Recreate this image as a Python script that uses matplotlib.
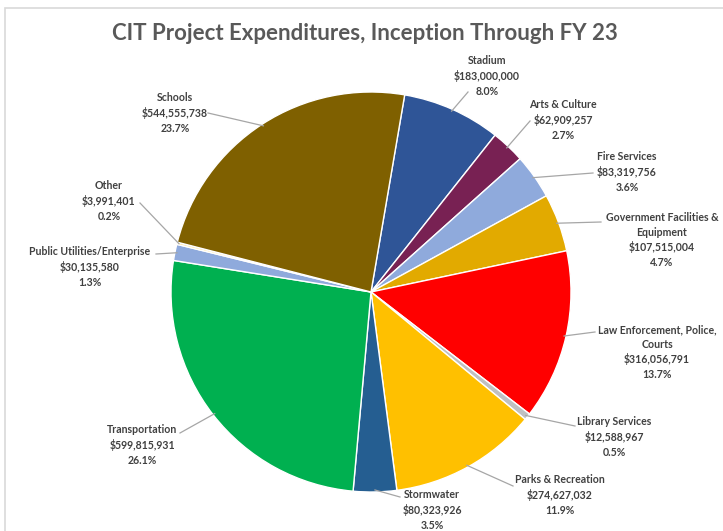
import numpy as np
import matplotlib
matplotlib.use("Agg")
import matplotlib.pyplot as plt
from matplotlib.patches import Rectangle
from matplotlib.lines import Line2D

# data, clockwise from the Stadium slice
categories = ["Stadium", "Arts & Culture", "Fire Services",
              "Government Facilities &\nEquipment", "Law Enforcement, Police,\nCourts",
              "Library Services", "Parks & Recreation", "Stormwater", "Transportation",
              "Public Utilities/Enterprise", "Other", "Schools"]
amounts = [183000000, 62909257, 83319756, 107515004, 316056791, 12588967,
           274627032, 80323926, 599815931, 30135580, 3991401, 544555738]
percents = ["8.0%", "2.7%", "3.6%", "4.7%", "13.7%", "0.5%",
            "11.9%", "3.5%", "26.1%", "1.3%", "0.2%", "23.7%"]
colors = ["#2F5597", "#782153", "#8FAADC", "#E2AA00", "#FF0000", "#C0C0C0",
          "#FFC000", "#255E91", "#00B050", "#8FAADC", "#FFE699", "#7F6000"]

# label block centres and leader line ends, image pixels (x, y from top)
label_pos = [(487, 76), (563, 120), (627, 172), (662, 240), (657, 352), (614, 437),
             (560, 495), (432, 510), (142, 445), (90, 267), (109, 201), (175, 113)]
line_end = [(468, 92), (530, 121), (593, 173), (601, 222), (595, 332), (575, 426),
            (513, 486), (400, 497), (180, 433), (156, 254), (140, 203), (208, 113)]

W, H = 723, 531
fig = plt.figure(figsize=(W / 100, H / 100), dpi=100)
fig.patch.set_facecolor("white")

# chart frame
fig.patches.append(Rectangle((5 / W, -0.01), 1.0, 1 - 8 / H + 0.01, transform=fig.transFigure,
                             fill=False, edgecolor="#D9D9D9", linewidth=1.2))

fig.text(365 / W, 1 - 34 / H, "CIT Project Expenditures, Inception Through FY 23",
         ha="center", va="center", fontsize=16, fontweight="bold",
         color="#595959", family="Lato")

# pie box: x 171..571, y 92..492
ax = fig.add_axes([171 / W, 1 - 492 / H, 400 / W, 400 / H])
wedges, _ = ax.pie(amounts, colors=colors, startangle=90 - 9.7, counterclock=False,
                   wedgeprops=dict(edgecolor="white", linewidth=1.0))
ax.set_xlim(-1, 1)
ax.set_ylim(-1, 1)
ax.set_aspect("auto")
ax.axis("off")

for i, w in enumerate(wedges):
    mid = np.deg2rad((w.theta1 + w.theta2) / 2)
    px, py = ax.transData.transform((np.cos(mid) * 0.99, np.sin(mid) * 0.99))
    ex, ey = line_end[i]
    fig.lines.append(Line2D([px, ex], [py, H - ey], transform=None,
                            color="#A6A6A6", linewidth=0.9))
    lx, ly = label_pos[i]
    txt = f"{categories[i]}\n${amounts[i]:,}\n{percents[i]}"
    fig.text(lx / W, 1 - ly / H, txt, ha="center", va="center", multialignment="center",
             fontsize=7.6, fontweight="bold", color="#404040", family="Lato",
             linespacing=1.38)

fig.savefig("out.png", dpi=100)
